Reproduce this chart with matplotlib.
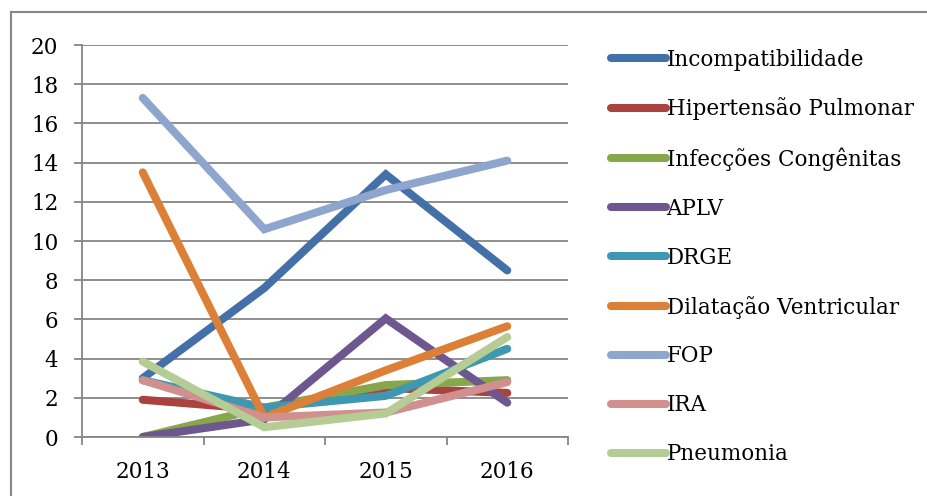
import matplotlib
matplotlib.use("Agg")
from matplotlib import pyplot as plt
from matplotlib.lines import Line2D

years = ["2013", "2014", "2015", "2016"]

incompatibilidade = [3.0, 7.6, 13.4, 8.5]
hipertensao = [1.9, 1.4, 2.5, 2.25]
infeccoes = [0.0, 1.5, 2.65, 2.9]
aplv = [0.0, 0.9, 6.05, 1.75]
drge = [2.9, 1.5, 2.1, 4.5]
dilatacao = [13.5, 1.0, 3.4, 5.65]
fop = [17.3, 10.6, 12.6, 14.1]
ira = [2.9, 1.0, 1.25, 2.8]
pneumonia = [3.85, 0.5, 1.2, 5.1]

series = [
    ("Incompatibilidade", incompatibilidade, "#4470a8"),
    ("Hipertensão Pulmonar", hipertensao, "#aa4340"),
    ("Infecções Congênitas", infeccoes, "#88a64a"),
    ("APLV", aplv, "#6e568f"),
    ("DRGE", drge, "#3e98b2"),
    ("Dilatação Ventricular", dilatacao, "#dc8037"),
    ("FOP", fop, "#8ea6cd"),
    ("IRA", ira, "#d18f8e"),
    ("Pneumonia", pneumonia, "#b5cc94"),
]

plt.rcParams["font.family"] = ["DejaVu Serif"]
fs = 15.5
grey = "#868686"

fig = plt.figure(figsize=(9.27, 4.96), dpi=100)
ax = fig.add_axes([82 / 927, (496 - 437) / 496, (568 - 82) / 927, (437 - 45) / 496])

x = list(range(len(years)))
handles = []
for name, vals, col in series:
    h, = ax.plot(x, vals, color=col, lw=5.8, solid_capstyle="round",
                 solid_joinstyle="miter", label=name)
    handles.append(h)

ax.set_xlim(-0.5, 3.5)
ax.set_ylim(0, 20)
ax.set_yticks(range(0, 21, 2))
ax.set_xticks(x)
ax.set_xticklabels(years)
ax.set_xticks([-0.5, 0.5, 1.5, 2.5, 3.5], minor=True)
ax.tick_params(axis="x", which="major", length=0, pad=17, labelsize=fs)
ax.tick_params(axis="x", which="minor", length=6, color=grey, width=1.3)
ax.tick_params(axis="y", length=6, color=grey, width=1.3, pad=11, labelsize=fs)
ax.grid(axis="y", color=grey, lw=1.3)
ax.set_axisbelow(True)
for s in ["top", "right"]:
    ax.spines[s].set_visible(False)
for s in ["bottom", "left"]:
    ax.spines[s].set_color(grey)
    ax.spines[s].set_linewidth(1.3)

fig.legend(handles=handles, loc="upper left", bbox_to_anchor=(602 / 927, 1 - 40 / 496),
           frameon=False, fontsize=fs, handlelength=2.55, handletextpad=0.05,
           labelspacing=1.25, borderaxespad=0)

# chart frame (left and top edges visible)
fig.add_artist(Line2D([11 / 927, 11 / 927], [0, 1 - 12 / 496], transform=fig.transFigure,
                      color=grey, lw=1.5))
fig.add_artist(Line2D([11 / 927, 1], [1 - 12 / 496, 1 - 12 / 496], transform=fig.transFigure,
                      color=grey, lw=1.5))

fig.savefig("out.png", dpi=100)
